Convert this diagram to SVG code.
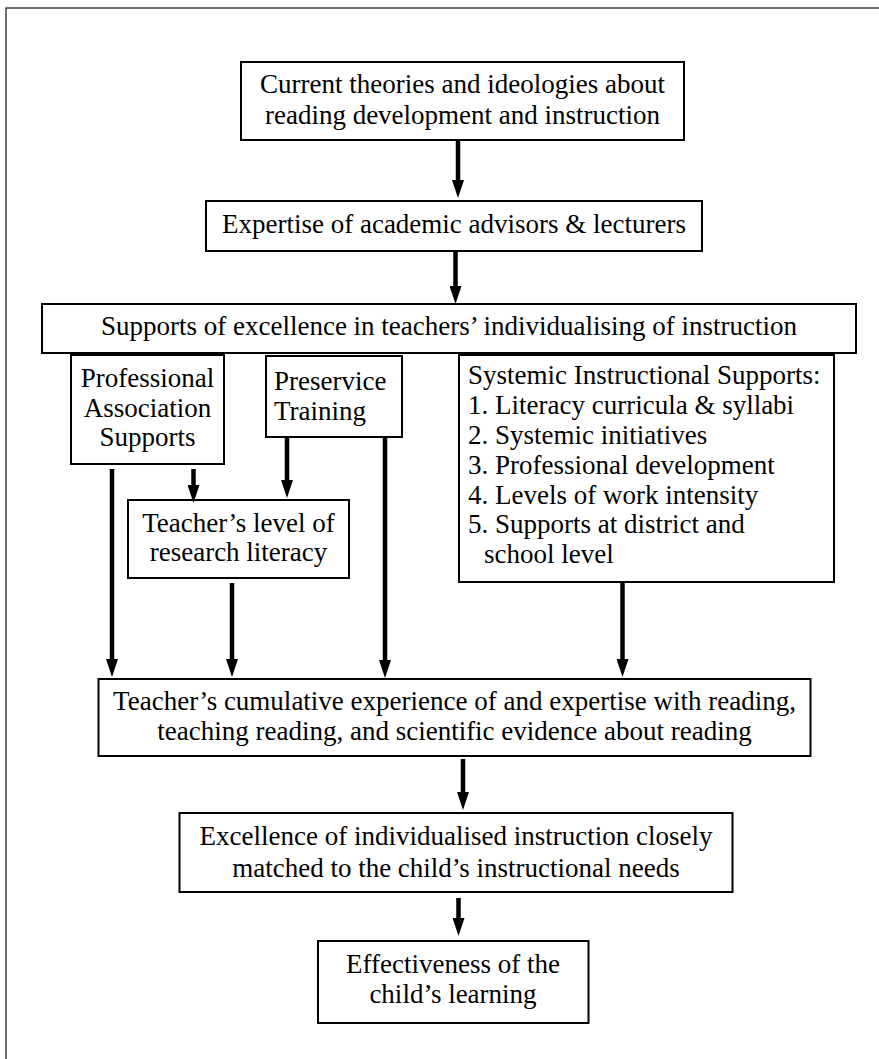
<svg xmlns="http://www.w3.org/2000/svg" width="879" height="1059" viewBox="0 0 879 1059">
<style>
.box{fill:#fff;stroke:#000;stroke-width:2}
.t{font-family:"Liberation Serif","Times New Roman",serif;font-size:27px;fill:#000}
.c{text-anchor:middle}
.cn line{stroke:#000;stroke-width:4.5}
</style>
<defs>
<marker id="ah" markerUnits="userSpaceOnUse" markerWidth="12" markerHeight="20" refX="6" refY="2" orient="0" viewBox="0 0 12 20">
<path d="M0,0 L12,0 L6,18 z" fill="#000"/>
</marker>
</defs>
<rect x="0" y="0" width="879" height="1059" fill="#fff"/>
<rect x="6" y="8" width="900" height="1100" fill="none" stroke="#222" stroke-width="1.3"/>

<g id="n-theories">
<rect class="box" x="241" y="62" width="443" height="78"/>
<text class="t c" x="462.5" y="93">Current theories and ideologies about</text>
<text class="t c" x="462.5" y="123.5">reading development and instruction</text>
</g>
<g id="n-expertise">
<rect class="box" x="206" y="201" width="496" height="50"/>
<text class="t c" x="454" y="232.5">Expertise of academic advisors &amp; lecturers</text>
</g>
<g id="n-supports">
<rect class="box" x="42" y="304" width="814" height="49"/>
<text class="t c" x="449" y="334.5">Supports of excellence in teachers’ individualising of instruction</text>
</g>
<g id="n-professional">
<rect class="box" x="71" y="355" width="153" height="109"/>
<text class="t c" x="147.5" y="387">Professional</text>
<text class="t c" x="147.5" y="416.5">Association</text>
<text class="t c" x="147.5" y="446">Supports</text>
</g>
<g id="n-preservice">
<rect class="box" x="266" y="356" width="136" height="81"/>
<text class="t" x="274" y="390">Preservice</text>
<text class="t" x="274" y="420">Training</text>
</g>
<g id="n-systemic">
<rect class="box" x="459" y="355" width="375" height="227"/>
<text class="t" x="468" y="384">Systemic Instructional Supports:</text>
<text class="t" x="468" y="414">1. Literacy curricula &amp; syllabi</text>
<text class="t" x="468" y="443.5">2. Systemic initiatives</text>
<text class="t" x="468" y="473.5">3. Professional development</text>
<text class="t" x="468" y="503.5">4. Levels of work intensity</text>
<text class="t" x="468" y="533">5. Supports at district and</text>
<text class="t" x="484" y="563">school level</text>
</g>
<g id="n-research">
<rect class="box" x="128" y="500" width="221" height="78"/>
<text class="t c" x="238.5" y="531.5">Teacher’s level of</text>
<text class="t c" x="238.5" y="561">research literacy</text>
</g>
<g id="n-cumulative">
<rect class="box" x="98.5" y="679" width="712" height="77"/>
<text class="t c" x="454.5" y="710">Teacher’s cumulative experience of and expertise with reading,</text>
<text class="t c" x="454.5" y="740">teaching reading, and scientific evidence about reading</text>
</g>
<g id="n-excellence">
<rect class="box" x="179.5" y="813" width="553" height="79"/>
<text class="t c" x="456" y="845">Excellence of individualised instruction closely</text>
<text class="t c" x="456" y="876.5">matched to the child’s instructional needs</text>
</g>
<g id="n-effectiveness">
<rect class="box" x="318" y="941" width="270.5" height="82"/>
<text class="t c" x="453" y="973">Effectiveness of the</text>
<text class="t c" x="453" y="1003">child’s learning</text>
</g>

<g id="connectors" class="cn">
<line x1="458" y1="140" x2="458" y2="182" marker-end="url(#ah)"/>
<line x1="455.5" y1="251" x2="455.5" y2="288" marker-end="url(#ah)"/>
<line x1="112" y1="469" x2="112" y2="661" marker-end="url(#ah)"/>
<line x1="193.5" y1="469" x2="193.5" y2="487" marker-end="url(#ah)"/>
<line x1="287" y1="437" x2="287" y2="482" marker-end="url(#ah)"/>
<line x1="385" y1="437" x2="385" y2="662" marker-end="url(#ah)"/>
<line x1="232" y1="583" x2="232" y2="661" marker-end="url(#ah)"/>
<line x1="622.5" y1="582" x2="622.5" y2="661" marker-end="url(#ah)"/>
<line x1="463" y1="759" x2="463" y2="794" marker-end="url(#ah)"/>
<line x1="458.5" y1="898" x2="458.5" y2="920" marker-end="url(#ah)"/>
</g>
</svg>
